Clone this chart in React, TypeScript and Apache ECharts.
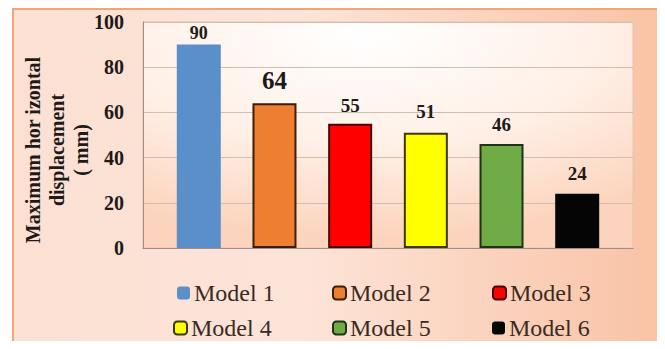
import React, { useEffect, useRef } from "react";
import * as echarts from "echarts";

// One category, six models drawn as side-by-side series
const modelNames = ["Model 1", "Model 2", "Model 3", "Model 4", "Model 5", "Model 6"];
const maxDisplacement = [90, 64, 55, 51, 46, 24];
const yTicks = { min: 0, max: 100, interval: 20 };
const yAxisTitle = ["Maximum hor izontal", "displacement", "( mm)"];

const fillColors = ["#5b8fc9", "#ef7f30", "#ff0000", "#ffff00", "#6fac46", "#050505"];
const edgeColors = ["#5b8fc9", "#3a1e05", "#4a0000", "#3c3a00", "#1e3318", "#050505"];
const edgeWidths = [0, 2, 2, 2, 2, 0];
const labelSizes = [18, 25, 19, 19, 19, 19];
const labelGaps = [3, 10, 9, 12, 10, 11];

// legend item anchors (left, top)
const legendSpots: [number, number][] = [
  [177, 281],
  [332, 281],
  [492, 281],
  [173, 316],
  [332, 316],
  [492, 316],
];

const SERIF = "Liberation Serif";

export default function App() {
  const ref = useRef<HTMLDivElement>(null);

  useEffect(() => {
    if (!ref.current) return;
    const chart = echarts.init(ref.current, undefined, { renderer: "svg" });

    const series = modelNames.map((name, i) => ({
      name,
      type: "bar",
      data: [maxDisplacement[i]],
      barWidth: 44,
      barGap: "72%",
      itemStyle: {
        color: fillColors[i],
        borderColor: edgeColors[i],
        borderWidth: edgeWidths[i],
      },
      label: {
        show: true,
        position: "top",
        distance: labelGaps[i],
        formatter: "{c}",
        fontFamily: SERIF,
        fontWeight: "bold",
        fontSize: labelSizes[i],
        color: "#1e1a18",
      },
    }));

    const legends = modelNames.map((name, i) => ({
      data: [name],
      left: legendSpots[i][0],
      top: legendSpots[i][1],
      padding: 0,
      itemWidth: 13,
      itemHeight: 13,
      itemGap: 0,
      textStyle: {
        fontFamily: SERIF,
        fontSize: 24,
        color: "#3a2a22",
        padding: [0, 0, 0, -1],
      },
    }));

    chart.setOption({
      animation: false,
      backgroundColor: "transparent",
      textStyle: { fontFamily: SERIF },
      graphic: [
        {
          type: "rect",
          z: -10,
          silent: true,
          shape: { x: 13, y: 9, width: 645, height: 350 },
          style: {
            fill: new echarts.graphic.LinearGradient(0, 0, 1, 0, [
              { offset: 0, color: "#fbe0d3" },
              { offset: 0.45, color: "#fde4d8" },
              { offset: 1, color: "#f9c3a6" },
            ]),
            stroke: "#f2a676",
            lineWidth: 2,
          },
        },
        {
          type: "text",
          silent: true,
          x: 57,
          y: 150,
          rotation: Math.PI / 2,
          style: {
            text: yAxisTitle.join("\n"),
            fontFamily: SERIF,
            fontWeight: "bold",
            fontSize: 20,
            lineHeight: 24,
            fill: "#1e1a18",
            align: "center",
            verticalAlign: "middle",
          },
        },
      ],
      grid: {
        left: 143,
        right: 32,
        top: 22,
        bottom: 101,
        show: true,
        borderColor: "#e7c2ad",
        borderWidth: 1,
        backgroundColor: new echarts.graphic.RadialGradient(0.45, 0.05, 0.9, [
          { offset: 0, color: "#ffffff" },
          { offset: 0.55, color: "#fff0e7" },
          { offset: 1, color: "#fcd4bd" },
        ]),
      },
      legend: legends,
      xAxis: {
        type: "category",
        data: [""],
        axisTick: { show: false },
        axisLabel: { show: false },
        axisLine: { show: true, lineStyle: { color: "#9b8f88", width: 1 } },
      },
      yAxis: {
        type: "value",
        min: yTicks.min,
        max: yTicks.max,
        interval: yTicks.interval,
        axisLine: { show: true, lineStyle: { color: "#9b8f88", width: 1 } },
        axisTick: { show: false },
        axisLabel: {
          margin: 19,
          fontFamily: SERIF,
          fontWeight: "bold",
          fontSize: 20,
          color: "#1e1a18",
        },
        splitLine: {
          show: true,
          lineStyle: { color: "#d3bdb1", width: 1 },
        },
      },
      series,
    });

    return () => chart.dispose();
  }, []);

  return <div ref={ref} style={{ width: 665, height: 349, margin: -8 }} />;
}
